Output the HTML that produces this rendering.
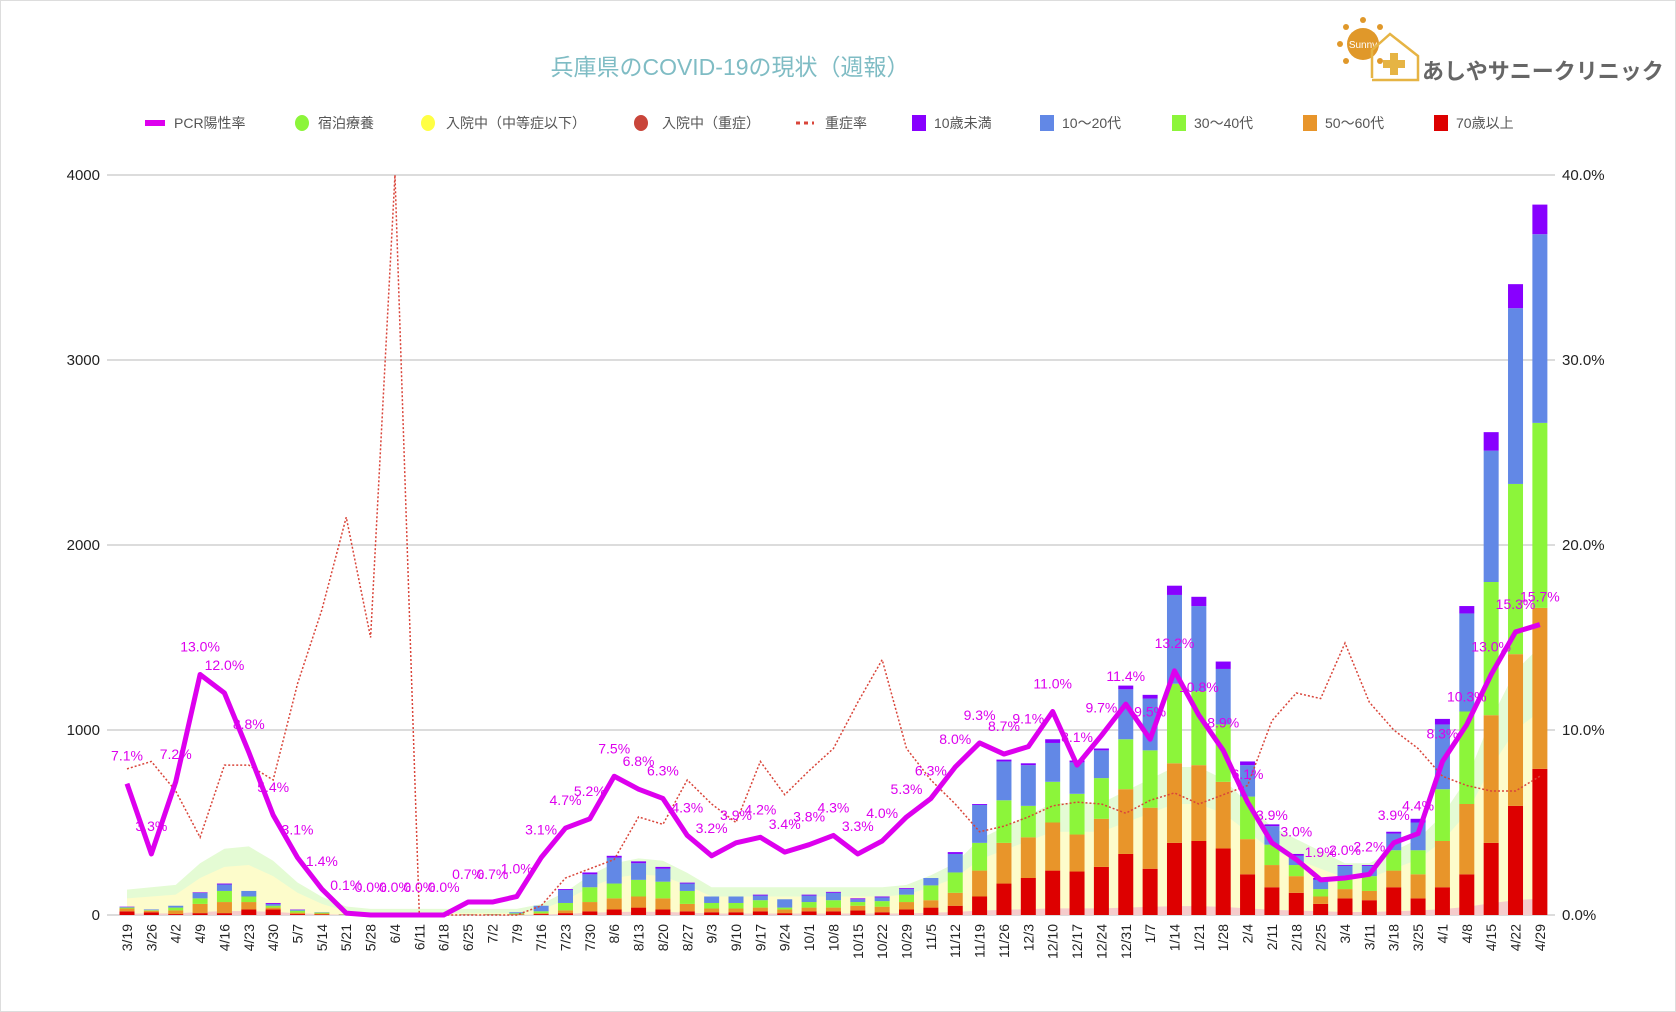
<!DOCTYPE html>
<html><head><meta charset="utf-8">
<style>
html,body{margin:0;padding:0;background:#fff;}
body{width:1676px;height:1012px;overflow:hidden;}
svg{display:block;font-family:"Liberation Sans","Noto Sans CJK JP",sans-serif;}
</style></head>
<body>
<svg id="c" width="1676" height="1012" viewBox="0 0 1676 1012" xmlns="http://www.w3.org/2000/svg">
<rect x="0.5" y="0.5" width="1675" height="1011" fill="#fff" stroke="#ddd"/>
<text x="730" y="75" text-anchor="middle" font-size="23" fill="#7fbcc4">兵庫県のCOVID-19の現状（週報）</text>
<g id="logo">
<circle cx="1363" cy="44" r="16" fill="#e0982a"/>
<g fill="#e0982a"><circle cx="1363" cy="20" r="3"/><circle cx="1380" cy="27" r="3"/><circle cx="1346" cy="27" r="3"/><circle cx="1340" cy="44" r="3"/><circle cx="1346" cy="61" r="3"/><circle cx="1380" cy="61" r="3"/></g>
<text x="1363" y="48" text-anchor="middle" font-size="10" fill="#fff">Sunny</text>
<path d="M1372 78 V50 L1390 34 L1418 56 V80 H1372" fill="none" stroke="#e6b444" stroke-width="2.5"/>
<rect x="1383" y="60" width="22" height="8" fill="#e6b444"/><rect x="1390" y="53" width="8" height="22" fill="#e6b444"/>
<text x="1422" y="79" font-size="22" font-weight="bold" fill="#666">あしやサニークリニック</text>
</g>
<g id="legend" font-size="14" fill="#555"></g>
<g id="grid"></g>
<g id="areas"></g>
<g id="bars"></g>
<g id="lines"></g>
<g id="labels"></g>
<g id="axes" font-size="15" fill="#222"></g>
</svg>
<script>
const NS="http://www.w3.org/2000/svg";
function el(p,t,a,txt){const e=document.createElementNS(NS,t);for(const k in a)e.setAttribute(k,a[k]);if(txt!==undefined)e.textContent=txt;document.getElementById(p).appendChild(e);return e;}
const dates=["3/19","3/26","4/2","4/9","4/16","4/23","4/30","5/7","5/14","5/21","5/28","6/4","6/11","6/18","6/25","7/2","7/9","7/16","7/23","7/30","8/6","8/13","8/20","8/27","9/3","9/10","9/17","9/24","10/1","10/8","10/15","10/22","10/29","11/5","11/12","11/19","11/26","12/3","12/10","12/17","12/24","12/31","1/7","1/14","1/21","1/28","2/4","2/11","2/18","2/25","3/4","3/11","3/18","3/25","4/1","4/8","4/15","4/22","4/29"];
const bars=[[20,15,5,3,2],[15,8,3,4,0],[5,20,15,10,0],[10,50,30,30,3],[10,60,60,35,5],[30,40,30,30,0],[30,10,10,10,5],[5,8,10,5,2],[3,5,5,2,0],[1,1,1,1,0],[0,1,1,1,0],[0,0,1,1,0],[0,0,1,0,0],[0,0,1,0,0],[1,1,1,1,0],[1,1,2,1,0],[2,2,5,6,0],[5,5,10,30,0],[10,15,40,70,5],[20,50,80,70,10],[30,60,80,140,10],[40,60,90,90,10],[30,60,90,70,10],[20,40,70,40,5],[15,20,30,35,0],[15,20,30,35,0],[20,20,40,25,5],[10,20,10,45,0],[20,20,30,35,5],[20,20,40,40,5],[25,25,20,15,5],[15,30,30,20,5],[30,40,40,30,5],[40,40,80,40,0],[50,70,110,100,10],[100,140,150,205,5],[170,220,230,210,10],[200,220,170,220,10],[240,260,220,210,20],[235,200,220,170,10],[260,260,220,150,10],[330,350,270,270,20],[250,330,310,280,20],[390,430,430,480,50],[400,410,400,460,50],[360,360,310,300,40],[220,190,230,170,20],[150,120,110,100,10],[120,90,60,50,10],[60,40,40,50,10],[90,50,70,55,5],[80,50,80,55,5],[150,90,110,90,10],[90,130,130,150,20],[150,250,280,350,30],[220,380,500,530,40],[390,690,720,710,100],[590,820,920,950,130],[790,870,1000,1020,160]];
const pcr=[7.1,3.3,7.2,13.0,12.0,8.8,5.4,3.1,1.4,0.1,0,0,0,0,0.7,0.7,1.0,3.1,4.7,5.2,7.5,6.8,6.3,4.3,3.2,3.9,4.2,3.4,3.8,4.3,3.3,4.0,5.3,6.3,8.0,9.3,8.7,9.1,11.0,8.1,9.7,11.4,9.5,13.2,10.8,8.9,6.1,3.9,3.0,1.9,2.0,2.2,3.9,4.4,8.3,10.3,13.0,15.3,15.7];
const sev=[7.9,8.3,6.7,4.2,8.1,8.1,7.3,12.5,16.5,21.5,15,40,0,0,0,0,0,0.5,2,2.5,3,5.3,4.9,7.3,6,5,8.3,6.5,7.8,9,11.5,13.8,9,7.3,6,4.5,4.8,5.3,5.9,6.1,6,5.5,6.2,6.6,6,6.5,7,10.5,12,11.7,14.7,11.5,10,9,7.5,7,6.7,6.7,7.5];
const yel=[90,100,110,200,260,270,210,120,60,20,10,10,10,10,10,10,10,30,80,150,200,220,210,160,100,100,100,100,100,100,100,100,110,150,200,300,350,400,450,450,450,500,550,600,600,550,450,350,300,250,200,200,250,300,400,550,800,1000,1100];
const X=i=>127+i*24.36, Y=v=>915-v*0.185, P=p=>915-p*18.5;
for(let k=0;k<=4;k++){const y=Y(k*1000);el("grid","line",{x1:107,x2:1555,y1:y,y2:y,stroke:"#d0d0d0","stroke-width":1.5});
el("axes","text",{x:100,y:y+5,"text-anchor":"end"},String(k*1000));
el("axes","text",{x:1562,y:y+5},(k*10).toFixed(1)+"%");}
let g="M"+X(0)+" 915 ",yl="M"+X(0)+" 915 ",pk="M"+X(0)+" 915 ";
yel.forEach((v,i)=>{yl+="L"+X(i)+" "+Y(v)+" ";g+="L"+X(i)+" "+Y(v*1.3+20)+" ";pk+="L"+X(i)+" "+Y(Math.min(v*0.08,90))+" ";});
const end="L"+X(58)+" 915 Z";
el("areas","path",{d:g+end,fill:"#e4fbd4"});
el("areas","path",{d:yl+end,fill:"#fdfccb"});
el("areas","path",{d:pk+end,fill:"#f5cccc"});
const cols=["#dd0000","#e8952a","#8cf53a","#6288e6","#8800ff"];
bars.forEach((b,i)=>{let acc=0;b.forEach((v,j)=>{if(v<=0)return;const y1=Y(acc+v),h=v*0.185;el("bars","rect",{x:X(i)-7.5,y:y1,width:15,height:h,fill:cols[j]});acc+=v;});});
el("lines","polyline",{points:sev.map((v,i)=>X(i)+","+P(v)).join(" "),fill:"none",stroke:"#d9453a","stroke-width":1.5,"stroke-dasharray":"2,2"});
el("lines","polyline",{points:pcr.map((v,i)=>X(i)+","+P(v)).join(" "),fill:"none",stroke:"#dd00ee","stroke-width":5,"stroke-linejoin":"round"});
pcr.forEach((v,i)=>{const s=(v===0?"0.0":v.toFixed(1))+"%";el("labels","text",{x:X(i),y:P(v)-23,"text-anchor":"middle","font-size":14,fill:"#dd00ee"},s);});
dates.forEach((d,i)=>{el("axes","text",{transform:"translate("+(X(i)+5)+",924) rotate(-90)","text-anchor":"end","font-size":14},d);});
const ly=123;
el("legend","rect",{x:145,y:ly-3,width:20,height:6,fill:"#dd00ee"});el("legend","text",{x:174,y:ly+5},"PCR陽性率");
el("legend","ellipse",{cx:302,cy:ly,rx:7,ry:8,fill:"#8cf53a"});el("legend","text",{x:318,y:ly+5},"宿泊療養");
el("legend","ellipse",{cx:428,cy:ly,rx:7,ry:8,fill:"#ffff44"});el("legend","text",{x:446,y:ly+5},"入院中（中等症以下）");
el("legend","ellipse",{cx:641,cy:ly,rx:7,ry:8,fill:"#c9453a"});el("legend","text",{x:662,y:ly+5},"入院中（重症）");
el("legend","line",{x1:796,x2:814,y1:ly,y2:ly,stroke:"#d9453a","stroke-width":3,"stroke-dasharray":"4,4"});el("legend","text",{x:825,y:ly+5},"重症率");
const lg=[[912,"10歳未満",cols[4]],[1040,"10～20代",cols[3]],[1172,"30～40代",cols[2]],[1303,"50～60代",cols[1]],[1434,"70歳以上",cols[0]]];
lg.forEach(([x,t,c])=>{el("legend","rect",{x:x,y:ly-8,width:14,height:16,fill:c});el("legend","text",{x:x+22,y:ly+5},t);});
</script>
</body></html>
